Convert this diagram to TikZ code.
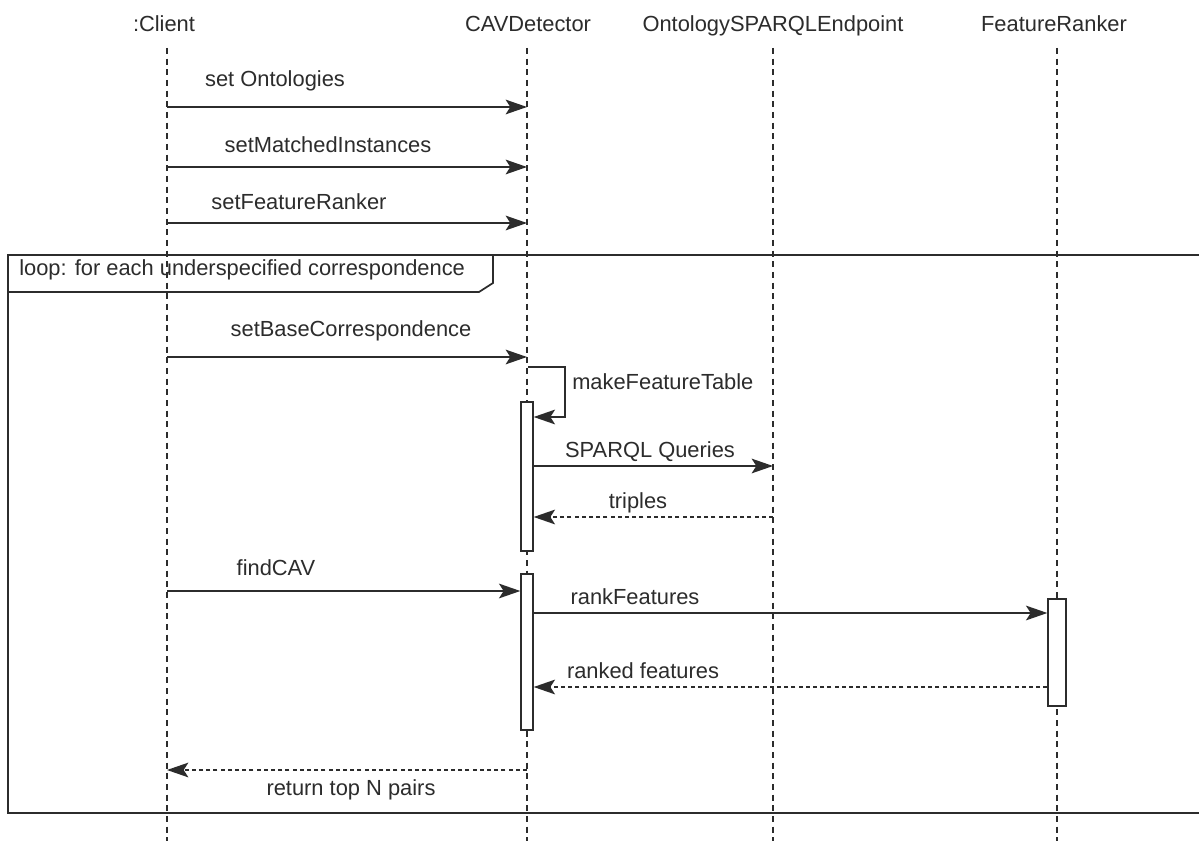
\documentclass[tikz,border=0pt]{standalone}
\usepackage{fontspec}
\setmainfont{Liberation Sans}
\usetikzlibrary{arrows.meta}
\definecolor{ink}{HTML}{2C2C2C}
\begin{document}
\begin{tikzpicture}[x=0.75pt,y=-0.75pt,
  font=\fontsize{16.4}{19}\selectfont,
  line/.style={draw=ink, line width=1.3pt},
  msg/.style={line, -{Stealth[length=16pt,width=11pt,inset=3.5pt]}},
  reply/.style={msg, dash pattern=on 3pt off 2.4pt},
  lifeline/.style={draw=ink, line width=0.9pt, dash pattern=on 4.5pt off 3.5pt},
  head/.style={text=ink, inner sep=0pt, anchor=base},
  lbl/.style={text=ink, inner sep=0pt, anchor=base},
  actbox/.style={draw=ink, line width=1pt, fill=white, inner sep=0pt},
]
\clip (0,0) rectangle (1199,841);
\fill[white] (0,0) rectangle (1199,841);

% participants
\node[head] (client) at (164,32) {:Client};
\node[head] (cav)    at (528,32) {CAVDetector};
\node[head] (ose)    at (773,32) {OntologySPARQLEndpoint};
\node[head] (fr)     at (1054,32) {FeatureRanker};

% lifelines
\coordinate (clT) at (167,48);  \coordinate (clB) at (167,841);
\coordinate (cvT) at (527,48);  \coordinate (cvB) at (527,841);
\coordinate (osT) at (773,48);  \coordinate (osB) at (773,841);
\coordinate (frT) at (1057,48); \coordinate (frB) at (1057,841);
\draw[lifeline] (clT) -- (clB);
\draw[lifeline] (cvT) -- (cvB);
\draw[lifeline] (osT) -- (osB);
\draw[lifeline] (frT) -- (frB);

% loop fragment
\coordinate (fTL) at (8,255);
\coordinate (fBR) at (1215,813);
\draw[line] (fTL) rectangle (fBR);
\coordinate (t1) at (493,255);
\coordinate (t2) at (493,283);
\coordinate (t3) at (479,292);
\coordinate (t4) at (8,292);
\draw[line] (t1) -- (t2) -- (t3) -- (t4);
\node[lbl, anchor=base west] (looplbl) at (19,276) {loop: for each underspecified correspondence};

% activation bars
\node[actbox, minimum width=9pt, minimum height=111.75pt] (act1) at (527,476.5) {};
\node[actbox, minimum width=9pt, minimum height=117pt] (act2) at (527,652) {};
\node[actbox, minimum width=13.5pt, minimum height=80.25pt] (act3) at (1057,652.5) {};

% setup calls
\coordinate (m1a) at (167,107); \coordinate (m1b) at (527,107);
\draw[msg] (m1a) -- (m1b);
\node[lbl] (l1) at (275,87) {set Ontologies};

\coordinate (m2a) at (167,167); \coordinate (m2b) at (527,167);
\draw[msg] (m2a) -- (m2b);
\node[lbl] (l2) at (328,153) {setMatchedInstances};

\coordinate (m3a) at (167,223); \coordinate (m3b) at (527,223);
\draw[msg] (m3a) -- (m3b);
\node[lbl] (l3) at (299,210) {setFeatureRanker};

% loop body
\coordinate (m4a) at (167,357); \coordinate (m4b) at (527,357);
\draw[msg] (m4a) -- (m4b);
\node[lbl] (l4) at (351,337) {setBaseCorrespondence};

\coordinate (s1) at (528,367);
\coordinate (s2) at (565,367);
\coordinate (s3) at (565,417);
\coordinate (s4) at (act1.east |- s3);
\draw[msg] (s1) -- (s2) -- (s3) -- (s4);
\node[lbl, anchor=base west] (l5) at (572,390) {makeFeatureTable};

\coordinate (m6a) at (act1.east |- 0,466); \coordinate (m6b) at (773,466);
\draw[msg] (m6a) -- (m6b);
\node[lbl] (l6) at (650,457) {SPARQL Queries};

\coordinate (m7a) at (773,517); \coordinate (m7b) at (act1.east |- 0,517);
\draw[reply] (m7a) -- (m7b);
\node[lbl] (l7) at (638,508) {triples};

\coordinate (m8a) at (167,591); \coordinate (m8b) at (act2.west |- 0,591);
\draw[msg] (m8a) -- (m8b);
\node[lbl] (l8) at (276,575) {findCAV};

\coordinate (m9a) at (act2.east |- 0,613); \coordinate (m9b) at (act3.west |- 0,613);
\draw[msg] (m9a) -- (m9b);
\node[lbl] (l9) at (635,604) {rankFeatures};

\coordinate (m10a) at (act3.west |- 0,687); \coordinate (m10b) at (act2.east |- 0,687);
\draw[reply] (m10a) -- (m10b);
\node[lbl] (l10) at (643,678) {ranked features};

\coordinate (m11a) at (527,770); \coordinate (m11b) at (167,770);
\draw[reply] (m11a) -- (m11b);
\node[lbl] (l11) at (351,795) {return top N pairs};
\end{tikzpicture}
\end{document}
